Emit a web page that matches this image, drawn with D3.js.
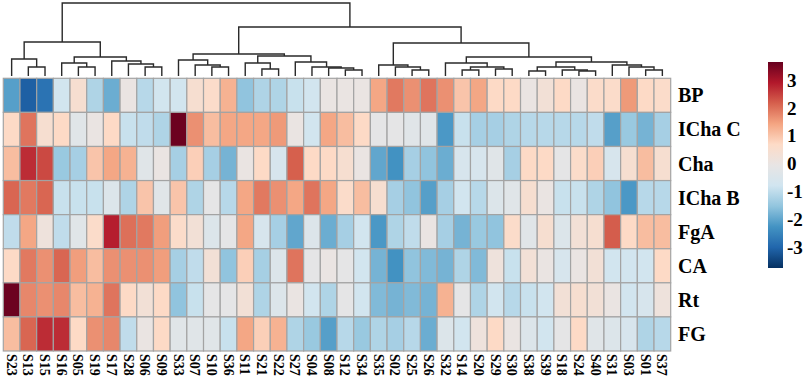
<!DOCTYPE html>
<html>
<head>
<meta charset="utf-8">
<script src="https://cdn.jsdelivr.net/npm/d3@7"></script>
<style>
  html, body { margin: 0; padding: 0; background: #fff; }
  svg { display: block; }
</style>
</head>
<body>
<div id="chart"></div>
<script>
// Column order (leaf order of the dendrogram)
const samples = ['S23', 'S13', 'S15', 'S16', 'S05', 'S19', 'S17', 'S28', 'S06', 'S09',
  'S33', 'S07', 'S10', 'S36', 'S11', 'S21', 'S22', 'S27', 'S04', 'S08',
  'S12', 'S34', 'S35', 'S02', 'S25', 'S26', 'S32', 'S14', 'S20', 'S29',
  'S30', 'S38', 'S39', 'S18', 'S24', 'S40', 'S31', 'S03', 'S01', 'S37'];

const traits = ['BP', 'ICha C', 'Cha', 'ICha B', 'FgA', 'CA', 'Rt', 'FG'];

// z-scores per trait, in column order
const BP = [-2.1, -3.1, -2.8, -0.75, 0.45, -1.2, -1.9, 0.0, -1.1, -0.75,
  -0.75, 0.45, 0.6, 1.25, -1.55, -1.2, -1.2, -0.9, -0.75, 0.0,
  0.0, 0.0, 1.4, 1.9, 1.65, 1.95, 1.65, 1.0, 1.4, 0.7,
  0.7, 0.0, 0.3, 0.7, 0.0, 0.6, 0.6, 1.55, 0.7, 0.6];
const IChaC = [0.7, 1.95, 0.45, 0.7, -0.3, 0.0, 0.7, -0.9, -1.0, -1.2,
  3.6, 1.65, 1.1, 1.4, 1.4, 1.4, 1.55, 0.0, -0.75, 1.4,
  1.1, 0.7, -0.15, -0.15, -0.3, -0.3, -2.2, -0.9, -1.3, -1.3,
  -1.2, -1.1, -1.1, -1.1, -1.1, -1.0, -2.1, -1.45, -1.8, -1.3];
const Cha = [1.1, 2.7, 2.4, -1.45, -1.3, 1.0, 1.4, 1.25, -0.3, 0.0,
  -1.3, 0.85, -1.3, -1.8, 0.0, 0.7, -0.6, 2.17, 0.7, 0.7,
  0.45, 0.0, -2.0, -2.3, -1.3, -1.55, -1.9, -0.6, -0.6, -0.3,
  -1.3, 0.7, 0.7, -0.15, 0.6, 0.85, -0.6, 0.45, 1.1, 0.45];
const IChaB = [2.1, 1.9, 2.1, -0.9, -0.9, -0.9, -0.45, -1.2, 1.0, -0.3,
  1.0, -1.2, -0.15, -1.1, 1.4, 1.9, 1.65, 1.4, 1.95, 1.4,
  0.6, 1.1, 0.45, -1.3, -1.55, -2.1, -1.3, -0.75, -1.1, -0.45,
  -0.3, 0.45, 0.0, -0.9, -0.9, -1.2, -1.55, -2.2, -1.1, -1.1];
const FgA = [-1.0, 1.4, 0.15, -1.0, -0.3, 0.6, 2.85, 2.0, 1.9, 1.5,
  0.6, 0.3, -0.45, -0.15, 1.4, -0.6, -1.3, -2.0, -0.45, -1.9,
  -1.3, -0.75, -2.2, -1.2, -1.0, 0.0, -1.3, -1.8, -1.45, -1.55,
  0.6, -0.3, 0.45, -0.45, 0.3, 0.45, 2.2, 0.7, 1.1, 1.1];
const CA = [0.7, 1.9, 1.65, 2.1, 1.5, 1.1, 1.65, 1.65, 1.65, 1.5,
  -1.3, -1.0, 0.3, -1.55, 0.85, -1.3, -0.45, 1.95, -0.15, 0.0,
  -0.15, -0.75, -1.8, -2.3, -1.55, -1.7, -1.8, -1.2, -1.7, 0.15,
  -0.9, 0.3, 0.0, -0.6, 0.0, 0.3, -0.75, -0.75, -0.75, 0.7];
const Rt = [3.6, 1.75, 1.65, 1.75, 1.1, 1.25, 1.95, 0.7, 0.3, 0.7,
  -1.55, -0.9, -0.15, -0.15, 0.3, -1.2, -0.45, 0.0, -0.75, -1.2,
  -0.15, -0.75, -1.7, -1.8, -1.7, -1.8, 1.25, -0.15, -1.2, -0.75,
  -1.1, -0.9, -0.75, 0.3, 0.45, 0.3, 0.0, -0.75, -0.6, 0.15];
const FG = [1.1, 2.1, 2.7, 2.7, 0.7, 1.65, 1.75, -1.0, 0.0, 0.7,
  -0.3, -0.3, -0.3, -0.9, 1.4, 0.85, 1.25, -1.2, -1.45, -2.1,
  -1.1, -1.45, -1.2, -1.3, -1.1, -1.9, -0.45, -0.75, 0.15, 0.7,
  0.0, -0.45, -0.75, -0.15, 0.7, -0.3, -0.45, -0.6, -1.2, -1.1];

const matrix = [BP, IChaC, Cha, IChaB, FgA, CA, Rt, FG];

// Hierarchical clustering merges: [left, right, height]
// strings are samples, numbers refer to an earlier merge
const merges = [
  ['S13', 'S15', 9],   // 0
  ['S23', 0, 17],      // 1
  ['S05', 'S19', 9],   // 2
  ['S16', 2, 13],      // 3
  ['S06', 'S09', 9],   // 4
  ['S28', 4, 12],      // 5
  ['S17', 5, 15],      // 6
  [3, 6, 19],          // 7
  [1, 7, 34],          // 8
  ['S10', 'S36', 9],   // 9
  ['S07', 9, 11],      // 10
  ['S33', 10, 16],     // 11
  ['S21', 'S22', 7],   // 12
  ['S11', 12, 13],     // 13
  ['S12', 'S34', 6],   // 14
  ['S08', 14, 8],      // 15
  ['S04', 15, 9],      // 16
  ['S27', 16, 14],     // 17
  [13, 17, 20],        // 18
  [11, 18, 22],        // 19
  ['S25', 'S26', 6],   // 20
  ['S02', 20, 9],      // 21
  ['S35', 21, 11],     // 22
  ['S14', 'S20', 6],   // 23
  ['S29', 'S30', 7],   // 24
  [23, 24, 9],         // 25
  ['S32', 25, 13],     // 26
  ['S38', 'S39', 5],   // 27
  ['S24', 'S40', 5],   // 28
  ['S18', 28, 6],      // 29
  [27, 29, 9],         // 30
  ['S01', 'S37', 6],   // 31
  ['S03', 31, 9],      // 32
  ['S31', 32, 11],     // 33
  [30, 33, 14],        // 34
  [26, 34, 19],        // 35
  [22, 35, 33],        // 36
  [19, 36, 49],        // 37
  [8, 37, 73]          // 38
];

// Colour legend range and ticks
const colorMin = -3.76;
const colorMax = 3.65;
const legendTicks = [3, 2, 1, 0, -1, -2, -3];
const palette = ['#053061', '#2166ac', '#4393c3', '#92c5de', '#d1e5f0', '#e8e5e4',
  '#fddbc7', '#f4a582', '#d6604d', '#b2182b', '#67001f'];

const width = 809;
const height = 380;

const svg = d3.select('#chart').append('svg')
  .attr('width', width)
  .attr('height', height);

const x = d3.scaleBand().domain(samples).range([3.3, 670.7]);
const y = d3.scaleBand().domain(traits).range([78.3, 351]);

const color = d3.scaleLinear()
  .domain(d3.range(palette.length).map(i => colorMin + (colorMax - colorMin) * i / (palette.length - 1)))
  .range(palette)
  .clamp(true);

// Dendrogram
const hScale = d3.scaleLinear().domain([0, d3.max(merges, m => m[2])]).range([76, 3]);
const nodes = [];
const pos = c => (typeof c === 'number' ? nodes[c] : { x: x(c) + x.bandwidth() / 2, h: 0 });
merges.forEach(([a, b, h]) => {
  const L = pos(a), R = pos(b);
  nodes.push({ x: (L.x + R.x) / 2, h, L, R });
});

svg.append('g')
  .attr('class', 'dendrogram')
  .selectAll('path')
  .data(nodes)
  .enter()
  .append('path')
  .attr('d', d => `M${d.L.x},${hScale(d.L.h)}V${hScale(d.h)}H${d.R.x}V${hScale(d.R.h)}`)
  .attr('fill', 'none')
  .attr('stroke', '#2a2a2a')
  .attr('stroke-width', 1.4);

// Heatmap cells
const cells = [];
traits.forEach((t, i) => {
  samples.forEach((s, j) => cells.push({ trait: t, sample: s, value: matrix[i][j] }));
});

svg.append('g')
  .attr('class', 'cells')
  .selectAll('rect')
  .data(cells)
  .enter()
  .append('rect')
  .attr('x', d => x(d.sample))
  .attr('y', d => y(d.trait))
  .attr('width', x.bandwidth())
  .attr('height', y.bandwidth())
  .attr('fill', d => color(d.value))
  .attr('stroke', '#a3a3a3')
  .attr('stroke-width', 1.2);

// Column labels (vertical, reading downward)
svg.append('g')
  .selectAll('text')
  .data(samples)
  .enter()
  .append('text')
  .attr('transform', d => `translate(${x(d) + x.bandwidth() / 2},354) rotate(90)`)
  .attr('dy', '0.35em')
  .attr('font-family', '"Liberation Serif", "Times New Roman", serif')
  .attr('font-weight', 'bold')
  .attr('font-size', '14px')
  .attr('fill', '#000')
  .text(d => d);

// Row labels
svg.append('g')
  .selectAll('text')
  .data(traits)
  .enter()
  .append('text')
  .attr('x', 678)
  .attr('y', d => y(d) + y.bandwidth() / 2)
  .attr('dy', '0.35em')
  .attr('font-family', '"Liberation Serif", "Times New Roman", serif')
  .attr('font-weight', 'bold')
  .attr('font-size', '20px')
  .attr('fill', '#000')
  .text(d => d);

// Colour legend
const legendY = d3.scaleLinear().domain([colorMin, colorMax]).range([268, 62]);
const defs = svg.append('defs');
const grad = defs.append('linearGradient')
  .attr('id', 'legend-grad')
  .attr('x1', 0).attr('y1', 1)
  .attr('x2', 0).attr('y2', 0);
palette.forEach((c, i) => {
  grad.append('stop')
    .attr('offset', `${(i / (palette.length - 1)) * 100}%`)
    .attr('stop-color', c);
});

svg.append('rect')
  .attr('x', 768)
  .attr('y', legendY(colorMax))
  .attr('width', 15)
  .attr('height', legendY(colorMin) - legendY(colorMax))
  .attr('fill', 'url(#legend-grad)');

svg.append('g')
  .selectAll('text')
  .data(legendTicks)
  .enter()
  .append('text')
  .attr('x', 787)
  .attr('y', d => legendY(d))
  .attr('dy', '0.35em')
  .attr('font-family', '"Liberation Serif", "Times New Roman", serif')
  .attr('font-weight', 'bold')
  .attr('font-size', '19px')
  .attr('fill', '#000')
  .text(d => d);
</script>
</body>
</html>
